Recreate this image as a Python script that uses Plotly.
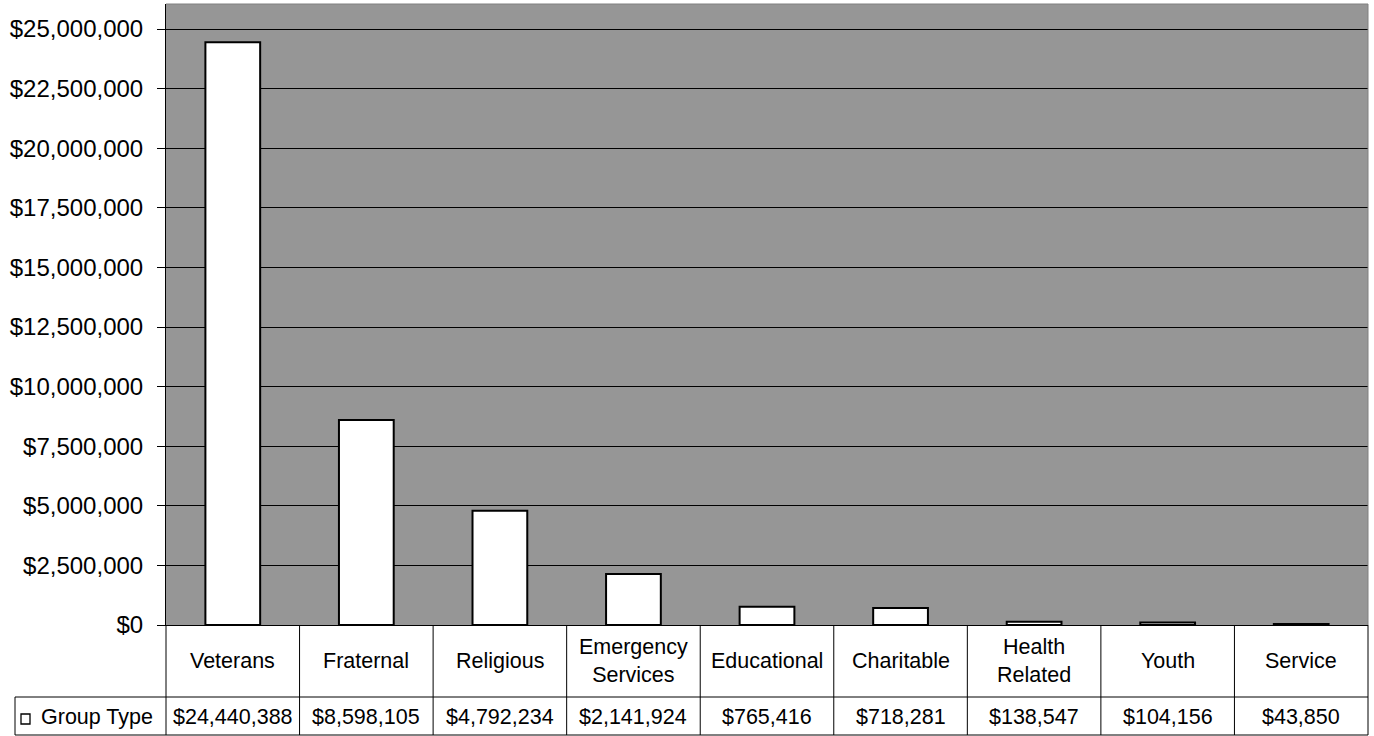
import plotly.graph_objects as go

categories = ["Veterans", "Fraternal", "Religious", "Emergency Services", "Educational",
              "Charitable", "Health Related", "Youth", "Service"]
category_labels = ["Veterans", "Fraternal", "Religious", "Emergency<br>Services", "Educational",
                   "Charitable", "Health<br>Related", "Youth", "Service"]
values = [24440388, 8598105, 4792234, 2141924, 765416, 718281, 138547, 104156, 43850]
series_name = "Group Type"

W, H = 1374, 736
L, R, T, B = 166, 6, 4, 111
PW, PH = W - L - R, H - T - B

def px_x(x):
    return (x - L) / PW

def px_y(y):
    return (H - B - y) / PH

fig = go.Figure()
fig.add_trace(go.Bar(
    x=categories, y=values, width=0.41,
    marker=dict(color="white", line=dict(color="black", width=2)),
    showlegend=False, hoverinfo="x+y",
))

n = len(categories)
shapes = []
y_axis = px_y(625)
y_row = px_y(697)
y_bot = px_y(735)
shapes.append(dict(type="line", xref="paper", yref="paper", x0=px_x(15), x1=1, y0=y_row, y1=y_row,
                   line=dict(color="black", width=1)))
shapes.append(dict(type="line", xref="paper", yref="paper", x0=px_x(15), x1=1, y0=y_bot, y1=y_bot,
                   line=dict(color="black", width=1)))
shapes.append(dict(type="line", xref="paper", yref="paper", x0=px_x(15), x1=px_x(15), y0=y_row, y1=y_bot,
                   line=dict(color="black", width=1)))
for k in range(n + 1):
    xk = k / n
    shapes.append(dict(type="line", xref="paper", yref="paper", x0=xk, x1=xk, y0=y_axis, y1=y_bot,
                       line=dict(color="black", width=1)))
shapes.append(dict(type="rect", xref="paper", yref="paper", x0=px_x(21), x1=px_x(30),
                   y0=px_y(724), y1=px_y(714), line=dict(color="black", width=1.3), fillcolor="white"))
shapes.append(dict(type="line", xref="paper", yref="paper", x0=0, x1=1, y0=1, y1=1,
                   line=dict(color="#808080", width=1)))
shapes.append(dict(type="line", xref="paper", yref="paper", x0=1, x1=1, y0=0, y1=1,
                   line=dict(color="#808080", width=1)))

annotations = []
font_tbl = dict(family="Liberation Sans, Arial, sans-serif", size=21.5, color="black")
for i in range(n):
    annotations.append(dict(xref="paper", yref="paper", x=(i + 0.5) / n, y=px_y(661),
                            text=category_labels[i], showarrow=False, font=font_tbl,
                            xanchor="center", yanchor="middle"))
    annotations.append(dict(xref="paper", yref="paper", x=(i + 0.5) / n, y=px_y(717),
                            text="${:,.0f}".format(values[i]), showarrow=False, font=font_tbl,
                            xanchor="center", yanchor="middle"))
annotations.append(dict(xref="paper", yref="paper", x=px_x(39), y=px_y(717), text=series_name,
                        showarrow=False, font=font_tbl, xanchor="left", yanchor="middle"))

fig.update_layout(
    width=W, height=H, autosize=False,
    margin=dict(l=L, r=R, t=T, b=B, pad=0),
    paper_bgcolor="white", plot_bgcolor="#969696",
    font=dict(family="Liberation Sans, Arial, sans-serif", color="black"),
    xaxis=dict(showticklabels=False, ticks="", showgrid=False, showline=True,
               linecolor="black", linewidth=1, range=[-0.5, n - 0.5], fixedrange=True),
    yaxis=dict(range=[0, 26050000], dtick=2500000, tick0=0, tickformat="$,.0f",
               showgrid=True, gridcolor="black", gridwidth=1, showline=True, linecolor="black",
               linewidth=1, ticks="outside", ticklen=8, tickcolor="black",
               ticklabelstandoff=9,
               tickfont=dict(size=24, family="Liberation Sans, Arial, sans-serif"),
               zeroline=False, fixedrange=True),
    shapes=shapes, annotations=annotations,
)

fig.write_html("out.html", config={"displayModeBar": False},
               post_script="document.body.style.margin='0';document.body.style.overflow='hidden';")
